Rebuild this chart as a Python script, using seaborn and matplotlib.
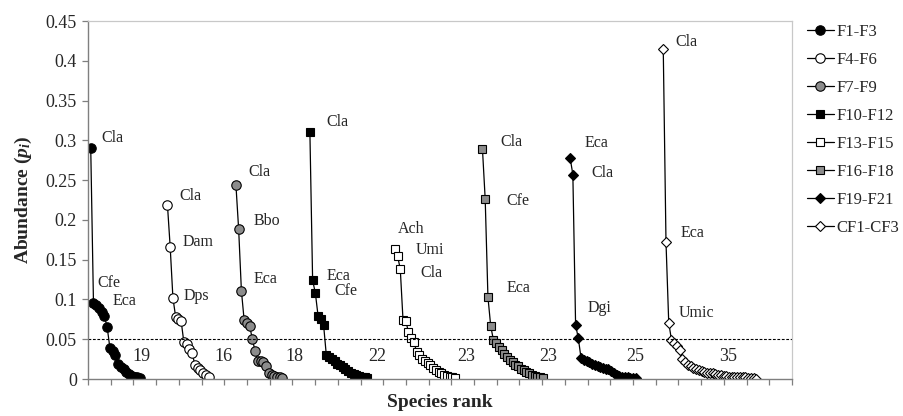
#!/usr/bin/env python3
"""
Rank-abundance curves for the F1-F21 and CF1-CF3 sampling groups
"""
import numpy as np
import pandas as pd
import matplotlib
matplotlib.use('Agg')
import matplotlib.pyplot as plt
import seaborn as sns

# Groups, in the order they are laid out along the rank axis
groups = ['F1-F3', 'F4-F6', 'F7-F9', 'F10-F12', 'F13-F15', 'F16-F18', 'F19-F21', 'CF1-CF3']

# Relative abundance (p_i) of each species, sorted by rank
ab_f1 = [0.290, 0.095, 0.093, 0.089, 0.084, 0.079, 0.065, 0.039, 0.035, 0.030,
         0.019, 0.015, 0.012, 0.009, 0.006, 0.004, 0.002, 0.002, 0.001]
ab_f4 = [0.219, 0.166, 0.102, 0.078, 0.076, 0.073, 0.046, 0.044, 0.038, 0.033,
         0.018, 0.014, 0.011, 0.008, 0.005, 0.003]
ab_f7 = [0.244, 0.188, 0.111, 0.074, 0.071, 0.067, 0.050, 0.035, 0.023, 0.022,
         0.021, 0.016, 0.008, 0.005, 0.004, 0.003, 0.002, 0.001]
ab_f10 = [0.311, 0.124, 0.108, 0.079, 0.075, 0.068, 0.030, 0.028, 0.025, 0.022,
          0.019, 0.017, 0.015, 0.012, 0.010, 0.008, 0.006, 0.005, 0.004, 0.003,
          0.002, 0.001]
ab_f13 = [0.164, 0.155, 0.138, 0.074, 0.073, 0.059, 0.052, 0.046, 0.034, 0.030,
          0.025, 0.022, 0.020, 0.017, 0.014, 0.011, 0.009, 0.007, 0.005, 0.004,
          0.003, 0.002, 0.001]
ab_f16 = [0.289, 0.226, 0.103, 0.067, 0.049, 0.045, 0.040, 0.036, 0.032, 0.028,
          0.024, 0.021, 0.018, 0.016, 0.013, 0.011, 0.009, 0.007, 0.005, 0.004,
          0.003, 0.002, 0.001]
ab_f19 = [0.278, 0.257, 0.068, 0.051, 0.026, 0.024, 0.022, 0.021, 0.019, 0.017,
          0.016, 0.015, 0.014, 0.013, 0.012, 0.010, 0.007, 0.005, 0.004, 0.003,
          0.002, 0.002, 0.001, 0.001, 0.001]
ab_cf1 = [0.415, 0.172, 0.071, 0.049, 0.045, 0.041, 0.036, 0.025, 0.021, 0.018,
          0.016, 0.014, 0.012, 0.011, 0.010, 0.009, 0.008, 0.007, 0.007, 0.006,
          0.005, 0.005, 0.004, 0.004, 0.003, 0.003, 0.003, 0.002, 0.002, 0.002,
          0.002, 0.001, 0.001, 0.001, 0.000]
abundances = [ab_f1, ab_f4, ab_f7, ab_f10, ab_f13, ab_f16, ab_f19, ab_cf1]

# Names of the dominant species written next to each curve
dominant = [['Cla', 'Cfe', 'Eca'], ['Cla', 'Dam', 'Dps'], ['Cla', 'Bbo', 'Eca'],
            ['Cla', 'Eca', 'Cfe'], ['Ach', 'Umi', 'Cla'], ['Cla', 'Cfe', 'Eca'],
            ['Eca', 'Cla', 'Dgi'], ['Cla', 'Eca', 'Umic']]

GAP = 9          # empty ranks between two groups
THRESHOLD = 0.05

# marker style per group
markers = ['o', 'o', 'o', 's', 's', 's', 'D', 'D']
fills = ['black', 'white', '#8c8c8c', 'black', 'white', '#8c8c8c', 'black', 'white']
msizes = [6.8, 6.8, 6.8, 6.2, 6.2, 6.2, 5.2, 5.2]

# where the species names and the species counts are written
name_pos = [[(5.0, 0.303), (3.6, 0.121), (9.1, 0.098)],
            [(33.2, 0.230), (34.7, 0.172), (35.0, 0.104)],
            [(58.4, 0.260), (60.6, 0.198), (60.6, 0.126)],
            [(87.2, 0.323), (87.2, 0.130), (90.1, 0.110)],
            [(113.1, 0.189), (119.7, 0.162), (121.5, 0.133)],
            [(150.7, 0.298), (152.9, 0.224), (152.9, 0.114)],
            [(181.4, 0.297), (183.9, 0.259), (182.5, 0.089)],
            [(214.6, 0.423), (216.4, 0.184), (215.7, 0.083)]]
count_x = [19.7, 49.6, 75.2, 105.5, 138.0, 167.9, 199.6, 233.6]

# long table with a running rank position
rows = []
start = 1
for g, ab in zip(groups, abundances):
    for i, v in enumerate(ab):
        rows.append({'group': g, 'pos': start + i, 'p': v})
    start += len(ab) + GAP
df = pd.DataFrame(rows)

sns.set_style('ticks')
plt.rcParams['font.family'] = ['Liberation Serif', 'DejaVu Serif']
plt.rcParams['mathtext.fontset'] = 'custom'
plt.rcParams['mathtext.rm'] = 'Liberation Serif'
plt.rcParams['mathtext.it'] = 'Liberation Serif:italic'
plt.rcParams['mathtext.bf'] = 'Liberation Serif:bold'
plt.rcParams['mathtext.bfit'] = 'Liberation Serif:italic:bold'

fig = plt.figure(figsize=(9.04, 4.16), dpi=100)
ax = fig.add_axes([88 / 904, 1 - 379 / 416, 704 / 904, 358 / 416])

handles = []
for k, g in enumerate(groups):
    sub = df[df['group'] == g]
    sns.lineplot(data=sub, x='pos', y='p', ax=ax, color='black', linewidth=0.9,
                 marker=markers[k], markersize=msizes[k], markerfacecolor=fills[k],
                 markeredgecolor='black', markeredgewidth=0.8, label=g, legend=False)
    handles.append(ax.get_lines()[-1])

    for name, (tx, ty) in zip(dominant[k], name_pos[k]):
        ax.text(tx, ty, name, ha='left', va='center', fontsize=11.5)
    ax.text(count_x[k], 0.028, str(len(abundances[k])), ha='center', va='center', fontsize=13)

ax.axhline(THRESHOLD, color='black', linestyle=(0, (2.5, 1.5)), linewidth=0.8)

ax.set_xlim(0, 257)
ax.set_ylim(0, 0.45)
ax.set_yticks(np.arange(0, 0.451, 0.05))
ax.set_yticklabels(['0', '0.05', '0.1', '0.15', '0.2', '0.25', '0.3', '0.35', '0.4', '0.45'])
ax.set_xticks(np.linspace(0, 257, 32))
ax.set_xticklabels([])
ax.tick_params(axis='both', direction='out', length=4, width=0.9, color='#7f7f7f',
               labelsize=13, pad=4)

for side in ['left', 'bottom']:
    ax.spines[side].set_color('#7f7f7f')
    ax.spines[side].set_linewidth(1.0)
for side in ['top', 'right']:
    ax.spines[side].set_visible(True)
    ax.spines[side].set_color('#c8c8c8')
    ax.spines[side].set_linewidth(0.9)

ax.set_xlabel('Species rank', fontsize=14, fontweight='bold', labelpad=3)
ax.set_ylabel(r'Abundance ($\mathbfit{p_i}$)', fontsize=14, fontweight='bold', labelpad=8)

fig.legend(handles=handles, labels=groups, loc='upper left',
           bbox_to_anchor=(807 / 904, 1 - 24 / 416), frameon=False, fontsize=12,
           handlelength=1.6, handletextpad=0.15, labelspacing=0.72,
           borderpad=0, borderaxespad=0)

plt.savefig('out.png', dpi=100)
plt.close()
